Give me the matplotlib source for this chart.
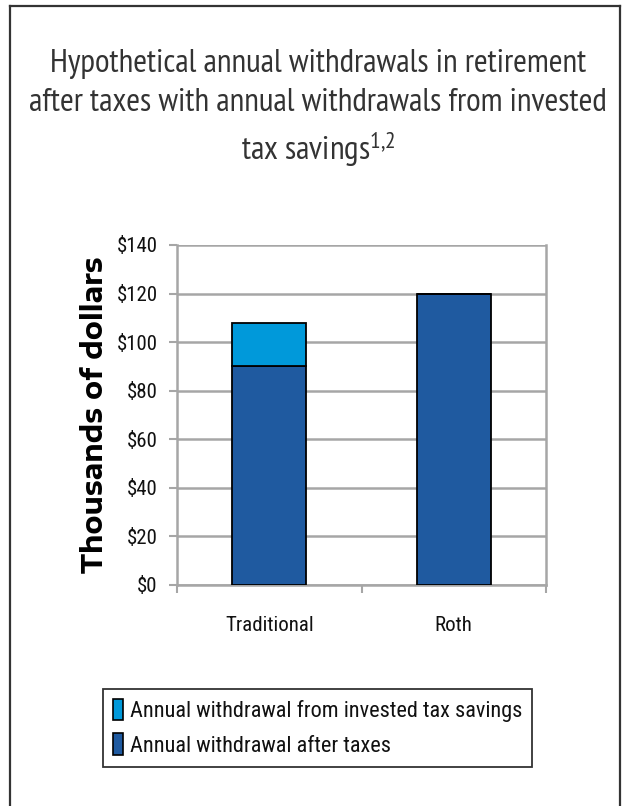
import matplotlib
matplotlib.use("Agg")
import matplotlib.pyplot as plt
from matplotlib.patches import Patch
from matplotlib.lines import Line2D
import numpy as np

categories = ["Traditional", "Roth"]
after_taxes = [90, 120]
invested_savings = [18, 0]
yticks = [0, 20, 40, 60, 80, 100, 120, 140]
ytick_labels = ["$0", "$20", "$40", "$60", "$80", "$100", "$120", "$140"]

title = ("Hypothetical annual withdrawals in retirement\n"
         "after taxes with annual withdrawals from invested\n"
         "tax savings$^{1{,}2}$")
ylabel = "Thousands of dollars"
legend_labels = ["Annual withdrawal from invested tax savings",
                 "Annual withdrawal after taxes"]

dark_blue = "#1f5aa0"
light_blue = "#0099da"
grid_gray = "#a6a6a6"
title_font = ["PT Sans Narrow", "DejaVu Sans"]
label_font = ["Roboto Condensed", "DejaVu Sans"]
ylabel_font = ["Encode Sans Expanded", "Liberation Sans", "DejaVu Sans"]

plt.rcParams["mathtext.fontset"] = "custom"
plt.rcParams["mathtext.rm"] = "PT Sans Narrow"
plt.rcParams["mathtext.it"] = "PT Sans Narrow"

W, H = 628, 806
fig = plt.figure(figsize=(W / 100, H / 100), dpi=100)

# outer frame, open at the bottom
frame_kw = dict(transform=fig.transFigure, color="#333333", lw=1.6)
fig.add_artist(Line2D([10 / W, 10 / W], [0, 1 - 6 / H], **frame_kw))
fig.add_artist(Line2D([620 / W, 620 / W], [0, 1 - 6 / H], **frame_kw))
fig.add_artist(Line2D([10 / W, 620 / W], [1 - 6 / H, 1 - 6 / H], **frame_kw))

fig.text(318 / W, 1 - 109 / H, title, ha="center", va="center",
         fontsize=24, family=title_font, color="#333333", linespacing=1.4)

ax = fig.add_axes([177 / W, 1 - 585 / H, 369 / W, 340 / H])
x = np.arange(len(categories))
bw = 0.4
ax.bar(x, after_taxes, width=bw, color=dark_blue, edgecolor="black", linewidth=1.3, zorder=3)
ax.bar(x, invested_savings, width=bw, bottom=after_taxes, color=light_blue,
       edgecolor="black", linewidth=1.3, zorder=3)

ax.set_xlim(-0.5, 1.5)
ax.set_ylim(0, 140)
ax.set_yticks(yticks)
ax.set_yticklabels(ytick_labels, family=label_font, fontsize=15, color="#111111")
ax.yaxis.grid(True, color=grid_gray, linewidth=1.8, zorder=0)
ax.set_axisbelow(True)
for s in ["left", "bottom", "right"]:
    ax.spines[s].set_color(grid_gray)
    ax.spines[s].set_linewidth(1.8)
ax.spines["top"].set_visible(False)
ax.tick_params(axis="y", length=6, width=1.5, color=grid_gray, pad=8)

# category boundaries get the tick marks, category centres get the labels
ax.set_xticks([-0.5, 0.5, 1.5])
ax.set_xticklabels([])
ax.tick_params(axis="x", length=6, width=1.5, color=grid_gray)
ax.set_xticks(x, minor=True)
ax.set_xticklabels(categories, minor=True, family=label_font, fontsize=15, color="#111111")
ax.tick_params(axis="x", which="minor", length=0, pad=22)

ax.set_ylabel(ylabel, family=ylabel_font, fontweight="bold", fontsize=20, labelpad=5)

handles = [Patch(facecolor=light_blue, edgecolor="black", linewidth=1.2),
           Patch(facecolor=dark_blue, edgecolor="black", linewidth=1.2)]
leg = fig.legend(handles, legend_labels, loc="upper left",
                 bbox_to_anchor=(103 / W, 1 - 689 / H), prop={"family": label_font, "size": 16},
                 frameon=True, fancybox=False, edgecolor="black", handlelength=0.45,
                 handleheight=1.1, handletextpad=0.3, borderpad=0.45, labelspacing=0.5,
                 borderaxespad=0)
leg.get_frame().set_linewidth(1.3)
for t in leg.get_texts():
    t.set_color("#111111")

fig.savefig("out.png", dpi=100)
